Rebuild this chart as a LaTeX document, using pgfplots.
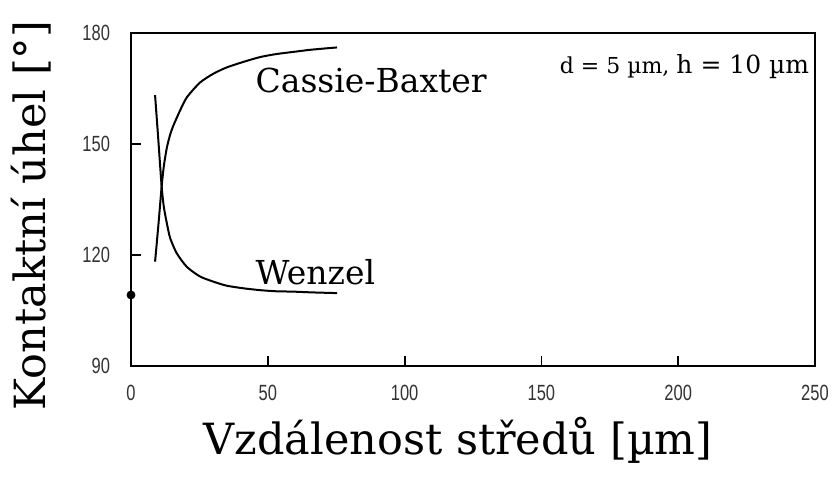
\documentclass[border=0pt]{standalone}
\usepackage{pgfplots}
\pgfplotsset{compat=1.18}
\usepackage{fontspec}
\setmainfont{DejaVu Serif}
\newfontfamily\ticksfont[FakeStretch=0.75]{Liberation Sans}
\begin{document}
\begin{tikzpicture}
\useasboundingbox (0,0) rectangle (418pt,239.5pt);
\begin{axis}[
  at={(65.5pt,56.5pt)}, anchor=south west,
  scale only axis, width=342pt, height=166.5pt,
  xmin=0, xmax=250, ymin=90, ymax=180,
  xtick={0,50,100,150,200,250},
  ytick={90,120,150,180},
  xtick pos=bottom, ytick pos=left,
  tick align=inside, major tick length=5pt,
  axis line style={line width=1pt},
  every tick/.style={black, line width=0.9pt},
  tick label style={font=\ticksfont\fontsize{11}{12}\selectfont, text=black!80},
  /pgf/number format/assume math mode=true,
  xticklabel style={yshift=-6pt},
  yticklabel style={xshift=-7pt},
  xlabel={Vzdálenost středů [µm]},
  ylabel={Kontaktní úhel [°]},
  label style={font=\fontsize{21.5}{24}\selectfont},
  xlabel style={at={(axis description cs:0.5,0)}, anchor=center, yshift=-37pt, xshift=-7.5pt},
  ylabel style={at={(axis description cs:0,0.5)}, anchor=center, rotate=0, yshift=50pt, xshift=-8pt},
  clip=false,
]
\addplot[black, line width=1pt, smooth, tension=0.4] coordinates {
(8.8,118.2)(10,128)(11.2,138.5)(12,144)(13.1,149)(14.3,152.5)(15.5,155)(17.9,159)(20.4,162.6)(25.2,166.6)(30.1,169)(35,170.7)(41.1,172.2)(47.2,173.5)(53,174.3)(59.4,174.9)(66,175.5)(75.3,176.1)
};
\addplot[black, line width=1pt, smooth, tension=0.4] coordinates {
(8.8,163.2)(10,151)(11.2,138.5)(12,133)(13.1,128.6)(14.3,124.6)(16.7,120.5)(20.4,116.8)(25.2,114.2)(30.1,112.8)(35,111.7)(41.1,111)(47.2,110.5)(53,110.2)(59.4,110.1)(66,109.9)(75.3,109.7)
};
\addplot[only marks, mark=*, mark size=2pt, black] coordinates {(0,109.2)};
\node[anchor=west, font=\fontsize{16.5}{18}\selectfont, inner sep=0pt] at (axis cs:45.4,167.3) {Cassie-Baxter};
\node[anchor=west, font=\fontsize{16.5}{18}\selectfont, inner sep=0pt] at (axis cs:45.4,115.4) {Wenzel};
\node[anchor=east, inner sep=0pt] at (axis cs:248,170.8) {\fontsize{11}{12}\selectfont d = 5 µm, \fontsize{12.5}{14}\selectfont h = 10 µm};
\end{axis}
\end{tikzpicture}
\end{document}
